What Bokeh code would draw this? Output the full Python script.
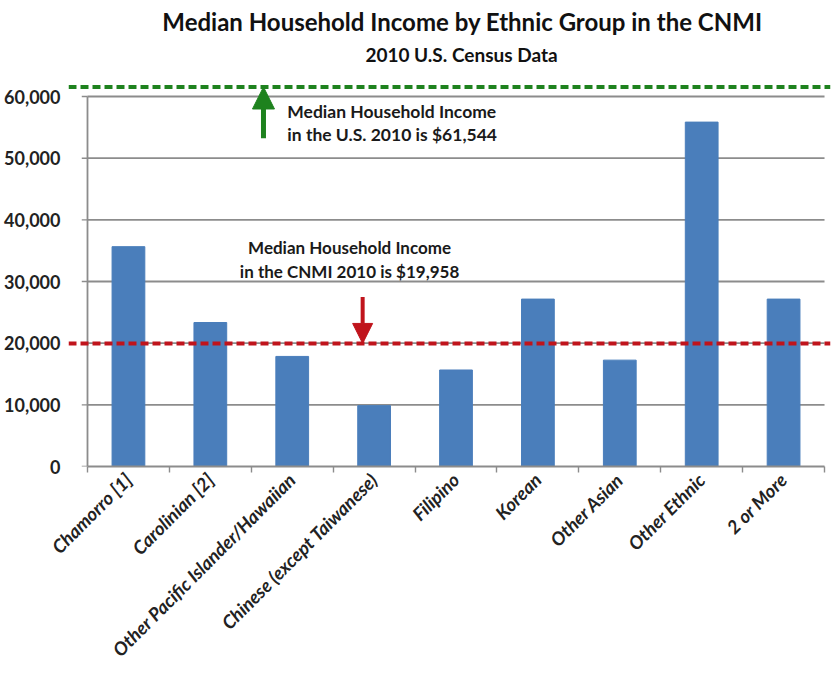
import math
from bokeh.plotting import figure
from bokeh.models import (FixedTicker, NumeralTickFormatter, Span, Label, Arrow,
                          NormalHead, ColumnDataSource, Range1d)
from bokeh.embed import file_html
from bokeh.resources import INLINE

# ---------------- data ----------------
categories = ["Chamorro [1]", "Carolinian [2]", "Other Pacific Islander/Hawaiian",
              "Chinese (except Taiwanese)", "Filipino", "Korean", "Other Asian",
              "Other Ethnic", "2 or More"]
incomes = [35650, 23350, 17850, 9870, 15650, 27150, 17250, 55850, 27150]
y_ticks = [0, 10000, 20000, 30000, 40000, 50000, 60000]
us_median = 61544
cnmi_median = 19958
title_text = "Median Household Income by Ethnic Group in the CNMI"
subtitle_text = "2010 U.S. Census Data"
us_note = ["Median Household Income", "in the U.S. 2010 is $61,544"]
cnmi_note = ["Median Household Income", "in the CNMI 2010 is $19,958"]

FONT = "Lato"
GREEN = "#1E821E"
RED = "#C0141C"
GRAY = "#8c8c8c"
n = len(categories)
xpos = [i + 0.5 for i in range(n)]

p = figure(width=831, height=673, output_backend="svg", toolbar_location=None,
           title_location=None,
           x_range=Range1d(-0.232, 9.073), y_range=Range1d(0, 75570),
           min_border_left=68, min_border_right=1, min_border_top=0,
           min_border_bottom=207)
p.outline_line_color = None
p.xgrid.visible = False
p.ygrid.visible = False

# titles (placed above the value area)
p.add_layout(Label(x=4.579, y=72100, text=title_text, text_font=FONT,
                   text_font_size="24px", text_font_style="bold", text_color="#111111",
                   text_align="center", text_baseline="alphabetic"))
p.add_layout(Label(x=4.567, y=66800, text=subtitle_text, text_font=FONT,
                   text_font_size="19px", text_font_style="bold", text_color="#111111",
                   text_align="center", text_baseline="alphabetic"))

# gridlines (from tick values) and y axis line
grid_src = ColumnDataSource(dict(y=y_ticks[1:], x0=[0] * (len(y_ticks) - 1),
                                 x1=[n] * (len(y_ticks) - 1)))
p.segment(x0="x0", y0="y", x1="x1", y1="y", source=grid_src,
          line_color=GRAY, line_width=1.8)
p.segment(x0=[0], y0=[0], x1=[0], y1=[max(y_ticks)], line_color=GRAY, line_width=1.8)
p.segment(x0=[-0.07] * len(y_ticks), y0=y_ticks, x1=[0] * len(y_ticks), y1=y_ticks,
          line_color=GRAY, line_width=1.4)

# bars
p.vbar(x=xpos, top=incomes, width=0.4, fill_color="#4A7EBB", line_color="#4A7EBB")

# reference lines
p.add_layout(Span(location=us_median, dimension="width", line_color=GREEN,
                  line_width=4, line_dash="8 4"))
p.add_layout(Span(location=cnmi_median, dimension="width", line_color=RED,
                  line_width=4, line_dash="8 4"))

# arrows
p.add_layout(Arrow(x_start=2.149, y_start=53240, x_end=2.149, y_end=us_median,
                   line_color=GREEN, line_width=5,
                   end=NormalHead(size=22, fill_color=GREEN, line_color=GREEN, line_width=1)))
p.add_layout(Arrow(x_start=3.36, y_start=27500, x_end=3.36, y_end=cnmi_median,
                   line_color=RED, line_width=4,
                   end=NormalHead(size=20, fill_color=RED, line_color=RED, line_width=1)))

# notes
for i, t in enumerate(us_note):
    p.add_layout(Label(x=2.44, y=57600, y_offset=-23 * i, text=t, text_font=FONT,
                       text_font_size="17.5px", text_font_style="bold",
                       text_color="#1a1a1a", text_align="left", text_baseline="middle"))
for i, t in enumerate(cnmi_note):
    p.add_layout(Label(x=3.2, y=35440, y_offset=-24 * i, text=t, text_font=FONT,
                       text_font_size="17px", text_font_style="bold",
                       text_color="#1a1a1a", text_align="center", text_baseline="middle"))

# y axis
p.yaxis.ticker = FixedTicker(ticks=y_ticks)
p.yaxis.formatter = NumeralTickFormatter(format="0,0")
p.yaxis.axis_line_color = None
p.yaxis.major_tick_line_color = None
p.yaxis.minor_tick_line_color = None
p.yaxis.major_label_standoff = 2
p.yaxis.major_label_text_font = FONT
p.yaxis.major_label_text_font_size = "18px"
p.yaxis.major_label_text_font_style = "bold"
p.yaxis.major_label_text_color = "#222222"

# x axis
p.xaxis.ticker = FixedTicker(ticks=xpos, minor_ticks=list(range(n + 1)))
p.xaxis.major_label_overrides = {x: c for x, c in zip(xpos, categories)}
p.xaxis.bounds = (0, n)
p.xaxis.axis_line_color = GRAY
p.xaxis.axis_line_width = 1.8
p.xaxis.major_tick_line_color = None
p.xaxis.minor_tick_line_color = GRAY
p.xaxis.minor_tick_line_width = 1.4
p.xaxis.minor_tick_out = 6
p.xaxis.minor_tick_in = 0
p.xaxis.major_label_orientation = math.pi / 4
p.xaxis.major_label_standoff = 4
p.xaxis.major_label_text_font = FONT
p.xaxis.major_label_text_font_size = "18.5px"
p.xaxis.major_label_text_font_style = "bold italic"
p.xaxis.major_label_text_color = "#222222"

open("out.html", "w").write(file_html(p, INLINE))
